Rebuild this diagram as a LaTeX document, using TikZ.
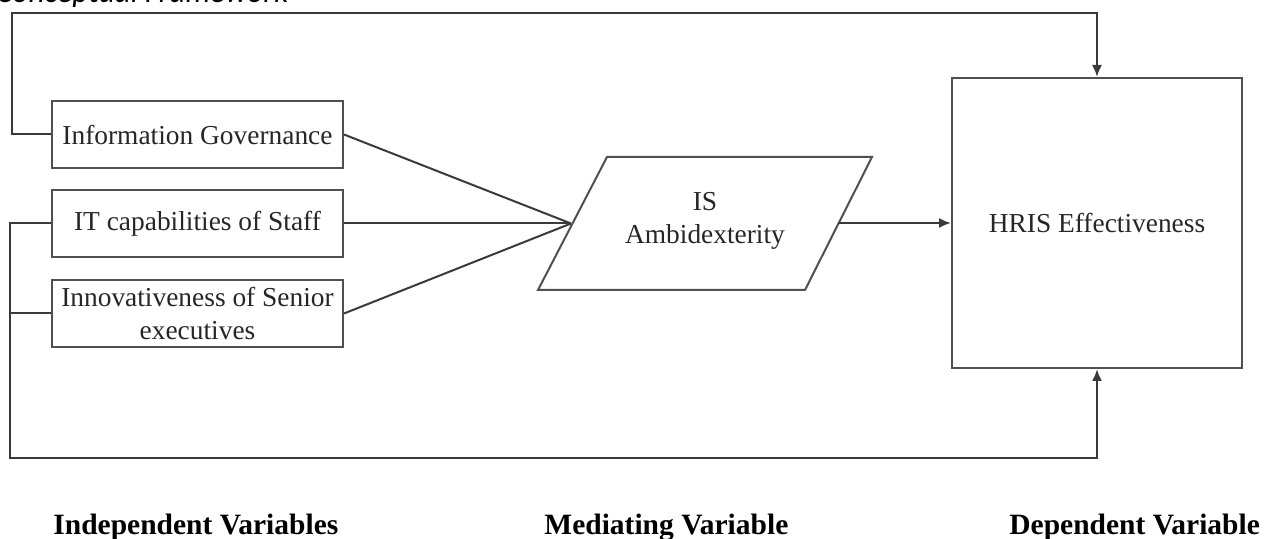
\documentclass[tikz,border=0pt]{standalone}
\usepackage{fontspec}
\setmainfont{Liberation Serif}
\newfontfamily\capfont{Carlito}
\usetikzlibrary{arrows.meta}
\definecolor{boxgray}{HTML}{505050}
\definecolor{linegray}{HTML}{3A3A3A}
\newcommand\myfont{\fontsize{13.7}{16.7}\selectfont}
\begin{document}
\begin{tikzpicture}[x=0.5pt,y=-0.5pt,
  box/.style={draw=boxgray, line width=1pt, minimum width=145.5pt, minimum height=33.5pt, inner sep=0pt, align=center, font=\myfont, text=black!85},
  conn/.style={draw=linegray, line width=1pt},
  arr/.style={conn, -{Latex[length=6pt,width=5pt]}},
  lbl/.style={font=\fontsize{14.75}{17}\selectfont\bfseries, anchor=base west, inner sep=0pt}]
\useasboundingbox (0,0) rectangle (1271,539);
% caption (cut off at top, as in the reference)
\node[anchor=base west, inner sep=0pt, font=\capfont\itshape\fontsize{15.6}{18}\selectfont] (cap) at (-4,3) {Conceptual Framework};
% independent variables
\node[box] (ig) at (197.5,134.5) {Information Governance};
\node[box] (it) at (197.5,223.5) {IT capabilities of Staff};
\node[box] (inn) at (197.5,313.5) {Innovativeness of Senior\\executives};
% mediating variable (parallelogram)
\draw[draw=boxgray, line width=1pt] (607,157) -- (872,157) -- (805,290) -- (538,290) -- cycle;
\node[font=\myfont, align=center, text=black!85] (para) at (705,221) {IS\\Ambidexterity};
\coordinate (conv) at (571,223.5);
\coordinate (pr) at (838,223);
% dependent variable
\node[box, minimum width=145pt, minimum height=145pt] (hris) at (1097,223) {HRIS Effectiveness};
% connectors
\draw[conn] (ig.east) -- (conv);
\draw[conn] (it.east) -- (conv);
\draw[conn] (inn.east) -- (conv);
\draw[arr] (pr) -- (hris.west);
\coordinate (tl) at (12,13);
\coordinate (bl) at (10,458);
\draw[arr] (ig.west) -| (tl) -| (hris.north);
\draw[arr] (it.west) -| (bl) -| (hris.south);
\draw[conn] (inn.west) -- (inn.west -| bl);
% labels
\node[lbl] (l1) at (53,535) {Independent Variables};
\node[lbl] (l2) at (544,535) {Mediating Variable};
\node[lbl] (l3) at (1009,535) {Dependent Variable};
\end{tikzpicture}
\end{document}
